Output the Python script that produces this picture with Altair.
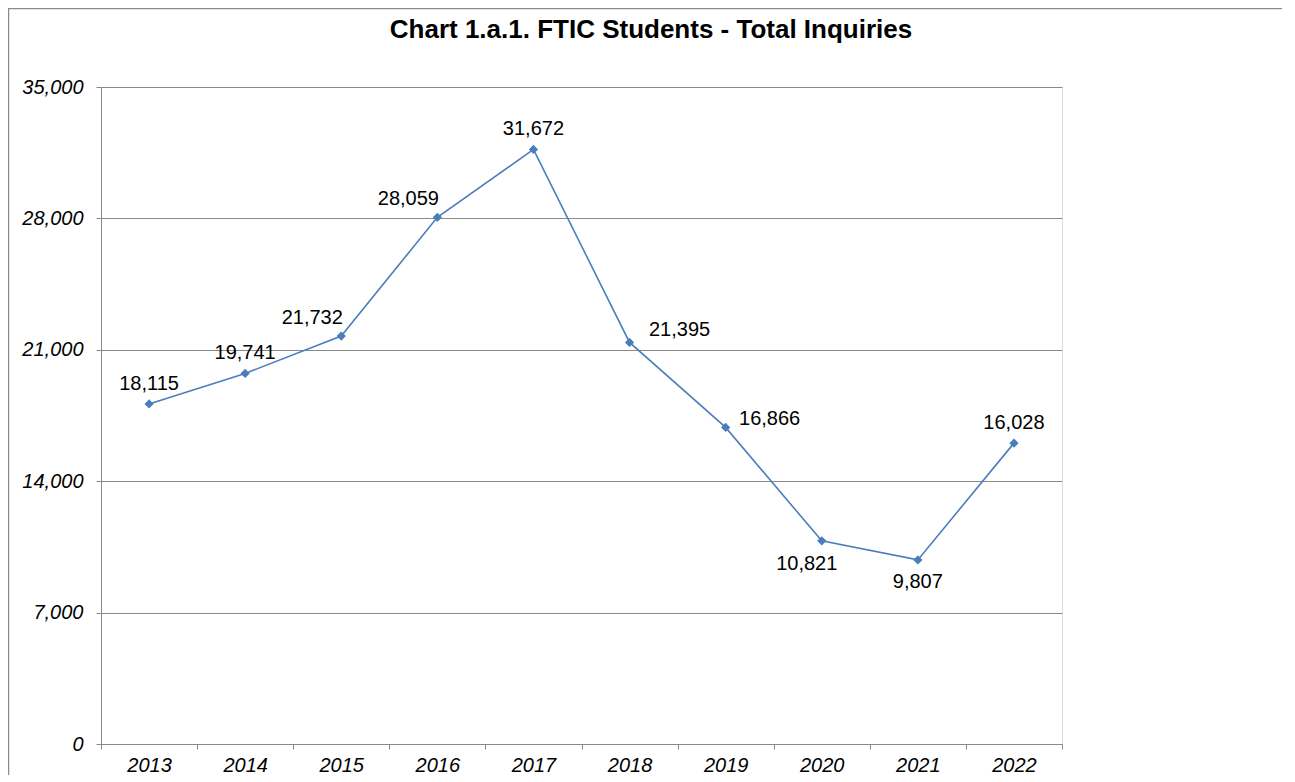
import altair as alt
import pandas as pd

years = ["2013", "2014", "2015", "2016", "2017", "2018", "2019", "2020", "2021", "2022"]
inquiries = [18115, 19741, 21732, 28059, 31672, 21395, 16866, 10821, 9807, 16028]
y_ticks = [0, 7000, 14000, 21000, 28000, 35000]
title_text = "Chart 1.a.1. FTIC Students - Total Inquiries"

labels_above = ["2013", "2014", "2017", "2022"]
labels_above_left = ["2015", "2016"]
labels_right_a = ["2018"]
labels_right_b = ["2019"]
labels_below_a = ["2020"]
labels_below_b = ["2021"]

df = pd.DataFrame({"Year": years, "Inquiries": inquiries})

FONT = "Liberation Sans"
LINE = "#4a7ebb"
GREY = "#898989"

x = alt.X("Year:N", sort=years, title=None,
          scale=alt.Scale(paddingInner=0, paddingOuter=0),
          axis=alt.Axis(tickBand="extent", labelAngle=0, labelFontStyle="italic",
                        labelFont=FONT, labelFontSize=20, labelColor="#000",
                        labelPadding=6, tickSize=5, tickColor=GREY,
                        domainColor=GREY, grid=False))
y = alt.Y("Inquiries:Q", title=None,
          scale=alt.Scale(domain=[0, 35000], nice=False),
          axis=alt.Axis(values=y_ticks, labelExpr="format(datum.value, ',')",
                        labelFontStyle="italic",
                        labelFont=FONT, labelFontSize=20, labelColor="#000",
                        labelPadding=13, tickSize=5, tickColor=GREY,
                        domainColor=GREY, grid=True, gridColor=GREY))

base = alt.Chart(df).encode(x=x, y=y)

line = base.mark_line(color=LINE, strokeWidth=1.6)
points = base.mark_point(shape="diamond", filled=True, size=85, color=LINE, opacity=1)

def lab(sel, dx, dy):
    return base.mark_text(font=FONT, fontSize=20, color="#000", dx=dx, dy=dy).encode(
        text=alt.Text("Inquiries:Q", format=",")
    ).transform_filter(alt.FieldOneOfPredicate(field="Year", oneOf=sel))

texts = [
    lab(labels_above, 0, -20),
    lab(labels_above_left, -29, -18),
    lab(labels_right_a, 50, -12),
    lab(labels_right_b, 44, -8),
    lab(labels_below_a, -15, 23),
    lab(labels_below_b, 0, 22),
]

title_df = pd.DataFrame({"t": [title_text]})
title = alt.Chart(title_df).mark_text(
    font=FONT, fontSize=26, fontWeight="bold", color="#000", baseline="middle", align="center"
).encode(text="t:N", x=alt.value(550), y=alt.value(-57))

border_top = alt.Chart(title_df).mark_rule(color="#8c8c8c", strokeWidth=1.5).encode(
    x=alt.value(-93), x2=alt.value(1300), y=alt.value(-78.5))
border_left = alt.Chart(title_df).mark_rule(color="#8c8c8c", strokeWidth=1.5).encode(
    x=alt.value(-92.5), y=alt.value(-79), y2=alt.value(800))

chart = alt.layer(border_top, border_left, title, line, points, *texts).properties(
    width=961, height=657,
    autosize=alt.AutoSizeParams(type="none"),
    padding={"left": 93, "top": 79, "right": 220, "bottom": 31},
).configure_view(stroke="#333", strokeWidth=1).configure(background="white")

chart.save("out.html", embed_options={"renderer": "svg", "actions": False})
